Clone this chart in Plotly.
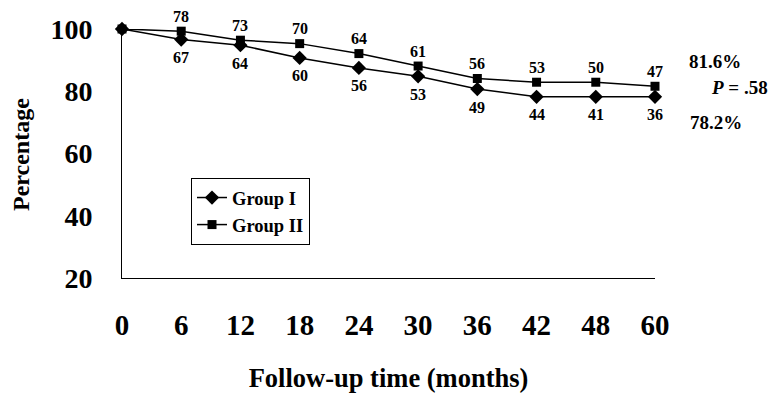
import plotly.graph_objects as go

months = ["0", "6", "12", "18", "24", "30", "36", "42", "48", "60"]
group1 = [100, 96.6, 94.8, 90.7, 87.5, 84.8, 80.7, 78.2, 78.2, 78.2]
group2 = [100, 99.3, 96.4, 95.3, 92.1, 88.1, 84.1, 82.9, 82.9, 81.6]
n_group1 = ["", "67", "64", "60", "56", "53", "49", "44", "41", "36"]
n_group2 = ["", "78", "73", "70", "64", "61", "56", "53", "50", "47"]
yticks = [20, 40, 60, 80, 100]

FONT = "Liberation Serif"
OFF = 8  # page body margin
W, H = 777 - OFF, 395 - OFF
L, R, T, B = 122 - OFF, 122, 29 - OFF, 117
PW = W - L - R
PH = H - T - B

fig = go.Figure()
fig.add_trace(go.Scatter(
    x=months, y=group1, mode="lines+markers", name="Group I",
    line=dict(color="black", width=1.5),
    marker=dict(symbol="diamond", size=11, color="black"),
    cliponaxis=False,
))
fig.add_trace(go.Scatter(
    x=months, y=group2, mode="lines+markers", name="Group II",
    line=dict(color="black", width=1.5),
    marker=dict(symbol="square", size=9, color="black"),
    cliponaxis=False,
))

for i, (v, t) in enumerate(zip(group2, n_group2)):
    if t:
        fig.add_annotation(x=i, y=v, text=t, showarrow=False, yshift=15,
                           font=dict(family=FONT, size=16, color="black", weight="bold"))
for i, (v, t) in enumerate(zip(group1, n_group1)):
    if t:
        fig.add_annotation(x=i, y=v, text=t, showarrow=False, yshift=-18,
                           font=dict(family=FONT, size=16, color="black", weight="bold"))

def px_x(p):
    return (p - OFF - L) / PW

def px_y(p):
    return (H - B - (p - OFF)) / PH

side = [("81.6%", 687, 62, "left"), ("<i>P</i> = .58", 770, 88, "right"), ("78.2%", 688, 122, "left")]
for txt, px, py, anc in side:
    fig.add_annotation(xref="paper", yref="paper", x=px_x(px), y=px_y(py), text=txt,
                       showarrow=False, xanchor=anc, yanchor="middle",
                       font=dict(family=FONT, size=19, color="black", weight="bold"))

# y-axis title placed as rotated text
fig.add_annotation(xref="paper", yref="paper", x=px_x(21), y=px_y(155), text="Percentage",
                   textangle=-90, showarrow=False, xanchor="center", yanchor="middle",
                   font=dict(family=FONT, size=24, color="black", weight="bold"))

fig.update_layout(
    width=W, height=H,
    margin=dict(l=L, r=R, t=T, b=B),
    paper_bgcolor="white", plot_bgcolor="white",
    font=dict(family=FONT, color="black", weight="bold"),
    showlegend=True,
    legend=dict(x=px_x(191), y=px_y(178), xanchor="left", yanchor="top",
                bordercolor="black", borderwidth=1, bgcolor="white",
                font=dict(family=FONT, size=18.5, color="black", weight="bold"),
                tracegroupgap=0),
    xaxis=dict(type="category", range=[0, 9], showline=True, linecolor="black", linewidth=1,
               showgrid=False, zeroline=False, ticks="", ticklabelstandoff=21, automargin=False,
               tickfont=dict(family=FONT, size=29, color="black", weight="bold"),
               title=dict(text="Follow-up time (months)", standoff=28,
                          font=dict(family=FONT, size=26.5, color="black", weight="bold"))),
    yaxis=dict(range=[20, 100], tickvals=yticks, showline=True, linecolor="black", linewidth=1,
               showgrid=False, zeroline=False, ticks="", ticklabelstandoff=23, automargin=False,
               tickfont=dict(family=FONT, size=28, color="black", weight="bold")),
)

fig.write_html("out.html")
